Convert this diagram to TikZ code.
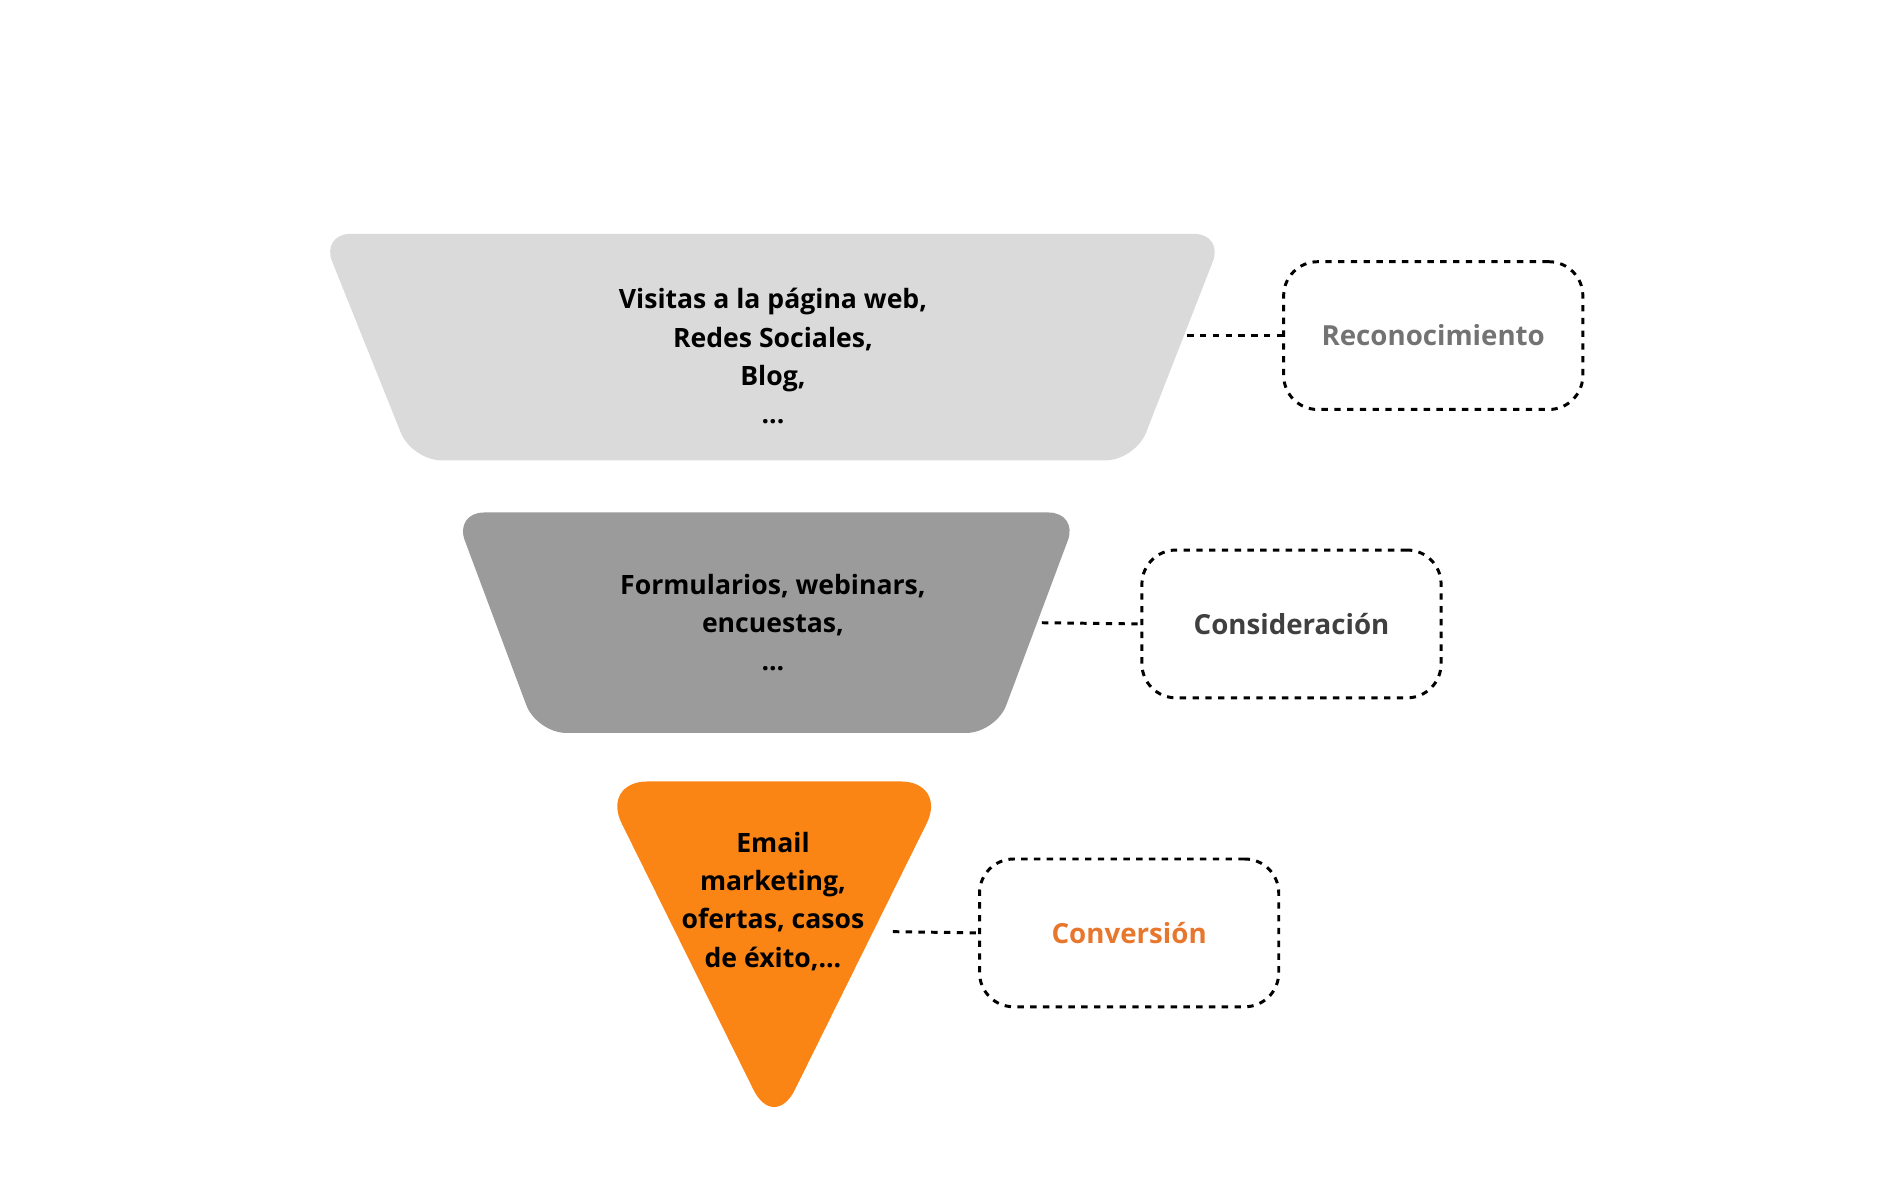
\documentclass[tikz,border=0pt]{standalone}
\usepackage{fontspec}
\setmainfont{Open Sans}
\usetikzlibrary{positioning}
\definecolor{lightgrey}{HTML}{DADADA}
\definecolor{midgrey}{HTML}{9B9B9B}
\definecolor{funnelorange}{HTML}{FA8414}
\definecolor{convorange}{HTML}{E8772E}
\tikzset{
  stage/.style={draw=none,rounded corners=14pt},
  stagetext/.style={align=center,font=\bfseries\fontsize{12.5}{18}\selectfont},
  phase/.style={draw,dashed,line width=1.4pt,rounded corners=16pt,minimum width=4.94cm,minimum height=2.44cm,font=\bfseries\fontsize{13}{16}\selectfont},
  link/.style={dashed,line width=1.4pt}
}
\begin{document}
\begin{tikzpicture}[x=0.02cm,y=-0.02cm]
\useasboundingbox (0,0) rectangle (1560,990);

% funnel stages
\fill[stage,lightgrey] (265,193) -- (1010,193) -- (937,380) -- (340,380) -- cycle;
\fill[stage,midgrey] (375,423) -- (890,423) -- (822,605) -- (443,605) -- cycle;
\fill[stage,funnelorange,rounded corners=22pt] (496,645) -- (782,645) -- (639,934) -- cycle;

\node[stagetext] (s1) at (638,294) {Visitas a la página web,\\Redes Sociales,\\Blog,\\...};
\node[stagetext] (s2) at (638,514) {Formularios, webinars,\\encuestas,\\...};
\node[stagetext] (s3) at (638,744) {Email\\marketing,\\ofertas, casos\\de éxito,...};

\coordinate (c1) at (980,277);
\coordinate (c2) at (860,514);
\coordinate (c3) at (737,769);

% phases
\node[phase,text=black!55] (p1) at (1183,277) {Reconocimiento};
\node[phase,text=black!75] (p2) at (1066,515) {Consideración};
\node[phase,text=convorange] (p3) at (932,770) {Conversión};

\draw[link] (c1) -- (p1.west);
\draw[link] (c2) -- (p2.west);
\draw[link] (c3) -- (p3.west);

\end{tikzpicture}
\end{document}
